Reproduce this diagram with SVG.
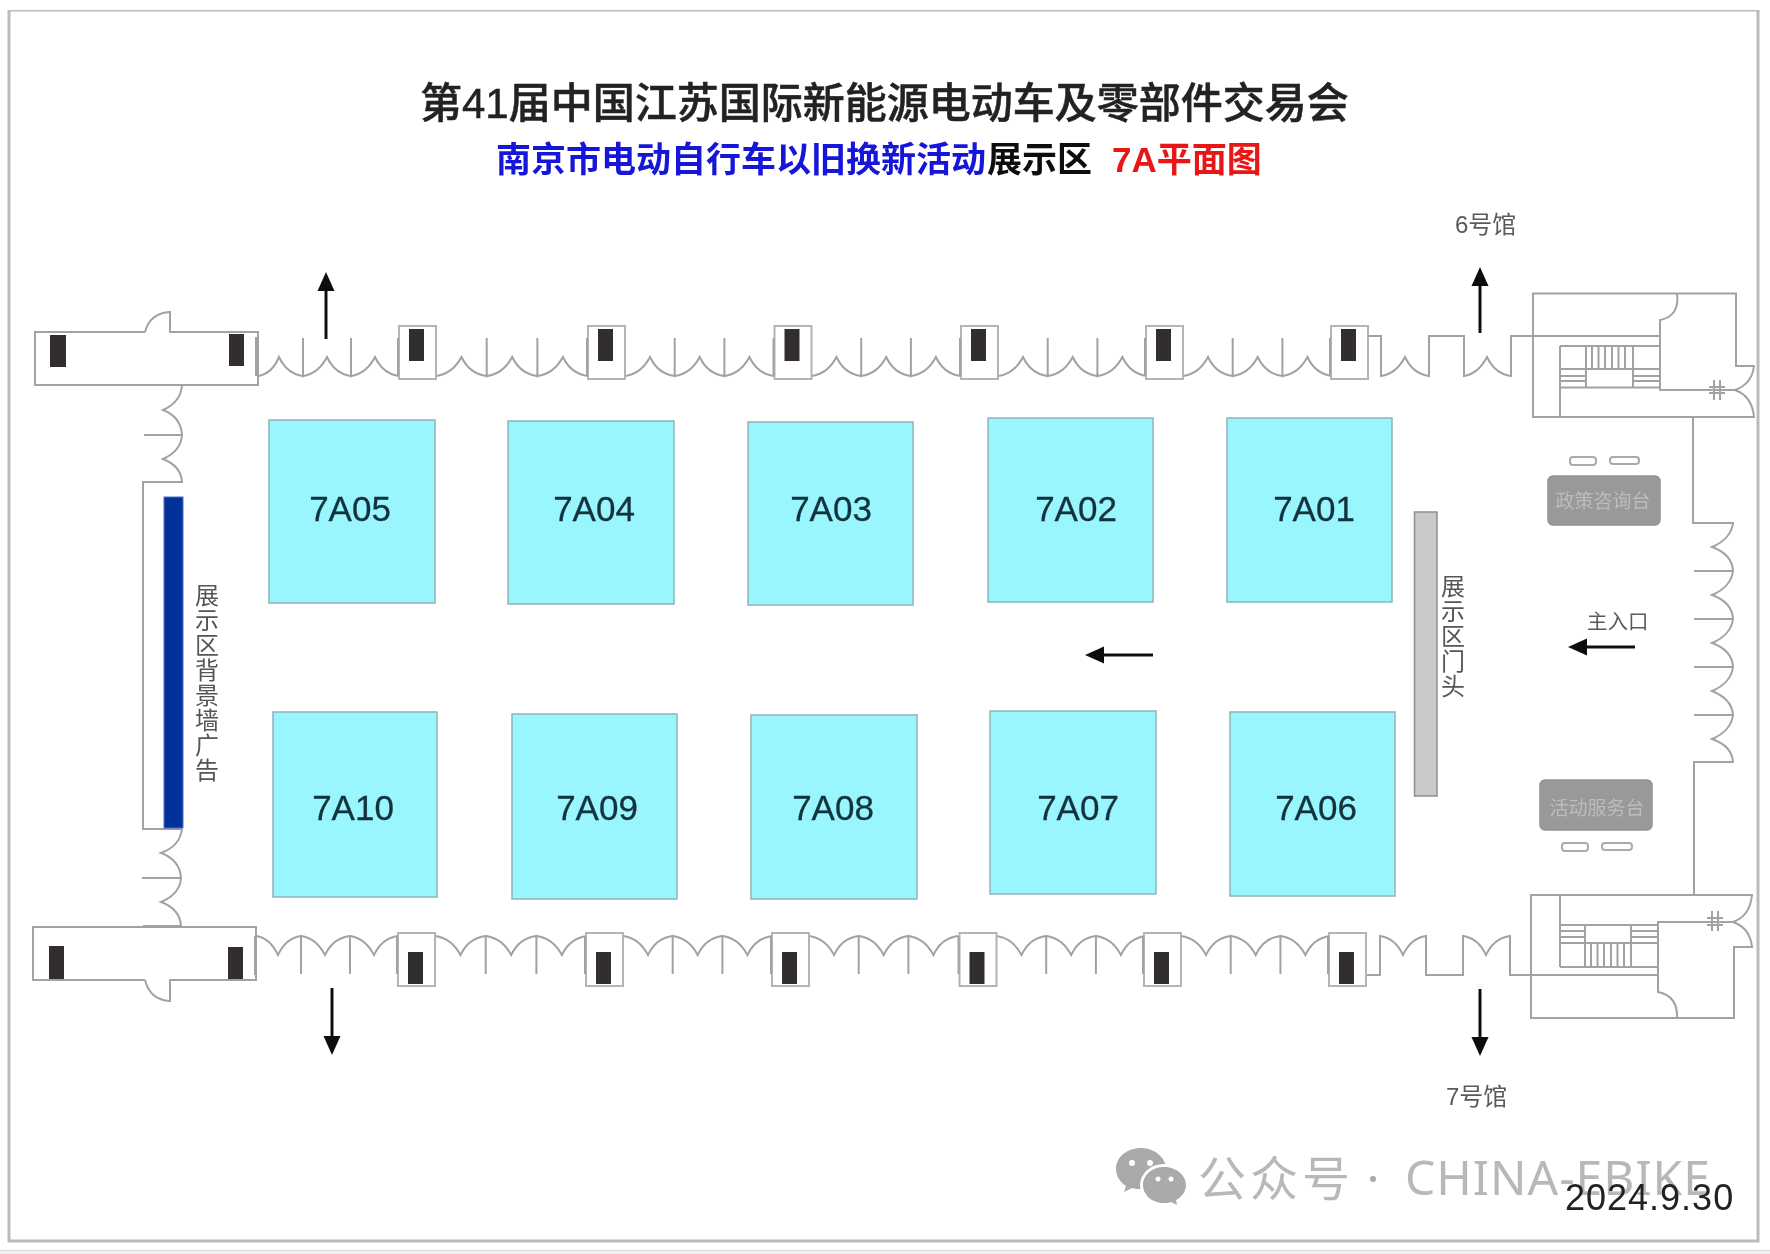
<svg xmlns="http://www.w3.org/2000/svg" width="1770" height="1254" viewBox="0 0 1770 1254">
<style>
.w{fill:none;stroke:#a2a2a2;stroke-width:2}
.dk{fill:#332f2e}
.pil{fill:#fff;stroke:#b4b4b4;stroke-width:2}
.stand{fill:#99f6ff;stroke:#8fb4b8;stroke-width:1.5}
.num{font-family:"Liberation Sans",Arial,sans-serif;font-size:35px;fill:#12333c;text-anchor:middle;stroke:#12333c;stroke-width:.3}
.lab{font-family:"Liberation Sans","Noto Sans CJK SC",sans-serif;fill:#5a5a5a;font-size:24px}
.vt{font-family:"Noto Sans CJK SC",sans-serif;fill:#555;font-size:24px;writing-mode:vertical-rl;letter-spacing:1px}
.desk{fill:#999;stroke:#929292;stroke-width:1.5}
.desktxt{font-family:"Noto Sans CJK SC",sans-serif;fill:#bcbcbc;font-size:19px;text-anchor:middle}
.seat{fill:#fff;stroke:#aaa;stroke-width:2}
.arrow{stroke:#111;stroke-width:3;fill:none;marker-end:url(#ah)}
.t2{font-family:"Liberation Sans","Noto Sans CJK SC",sans-serif;font-size:35px;font-weight:700}
</style>
<defs>
<filter id="soft" x="0" y="0" width="100%" height="100%"><feGaussianBlur stdDeviation="0.6"/></filter>
<marker id="ah" markerUnits="userSpaceOnUse" markerWidth="20" markerHeight="18" refX="1" refY="9" orient="auto"><path d="M0 0.5L19 9L0 17.5Z" fill="#111"/></marker>
<path id="spanT" class="w" d="M0 0q16-2 25-19q8 17 24.700 19v-38v38q16-2 25-19q8 17 24.700 19v-38v38q16-2 25-19q8 17 24.700 19"/>
<path id="spanB" class="w" d="M0 0q16 2 25 19q8-17 24.700-19v38v-38q16 2 25 19q8-17 24.700-19v38v-38q16 2 25 19q8-17 24.700-19"/>
<g id="pilT"><rect class="pil" x="0" y="326" width="37" height="53"/><path class="w" d="M-1 338V376"/><rect class="dk" x="10" y="329" width="15" height="32"/></g>
<g id="pilB"><rect class="pil" x="0" y="933" width="37" height="53"/><path class="w" d="M-1 936V974"/><rect class="dk" x="10" y="952" width="15" height="32"/></g>
</defs>
<rect width="1770" height="1254" fill="#fff"/>
<g filter="url(#soft)">
<rect x="0" y="1251" width="1770" height="3" fill="#f4f4f4"/>
<path d="M0 1250.500H1770" stroke="#ddd" stroke-width="1.500"/>
<rect id="frame" x="9" y="10" width="1749" height="1231" fill="none" stroke="#bbb" stroke-width="3"/>

<g id="title">
<text x="420" y="118" font-family="'Liberation Sans','Noto Sans CJK SC',sans-serif" font-size="42" font-weight="500" fill="#222" stroke="#222" stroke-width=".5">第41届中国江苏国际新能源电动车及零部件交易会</text>
<text class="t2" x="496" y="172" fill="#1212d8">南京市电动自行车以旧换新活动</text>
<text class="t2" x="987" y="172" fill="#111">展示区</text>
<text class="t2" x="1112" y="172" fill="#e81414">7A平面图</text>
</g>

<g id="walls">
<path id="block-top-left" class="w" d="M145 332H35V385H258V332H170V312Q150 313 145 332"/>
<rect class="dk" x="50" y="335" width="16" height="32"/>
<rect class="dk" x="229" y="334" width="15" height="32"/>
<path class="w" d="M256 337V376"/>
<path id="block-bottom-left" class="w" d="M145 980H33V927H256V980H170V1001Q150 1000 145 980"/>
<rect class="dk" x="49" y="946" width="15" height="33"/>
<rect class="dk" x="228" y="947" width="15" height="32"/>
<path class="w" d="M255 936V975"/>

<path id="left-doors-top" class="w" d="M143 385H182q-1 17-19 25q18 7 19 25H144H182q-1 16-19 24q18 7 19 23H143V829H182"/>
<path id="left-doors-bottom" class="w" d="M182 829q-2 17-21 24q19 7 20 25H142H181q-1 16-20 24q19 7 20 24H143"/>
<rect id="blue-wall" x="164" y="497" width="19" height="331" fill="#003399" stroke="#4a6fc4" stroke-width="1"/>

<path class="w" d="M258 376q14-2 21-19q8 17 24 19v-38v38q15-2 24-19q8 17 24 19v-38v38q15-2 24-19q8 17 24 19"/>
<use href="#spanT" transform="translate(436 376) scale(1.020 1)"/>
<use href="#spanT" x="625" y="376"/>
<use href="#spanT" x="811.500" y="376"/>
<use href="#spanT" x="998" y="376"/>
<use href="#spanT" x="1183" y="376"/>
<use href="#pilT" x="399"/>
<use href="#pilT" x="588"/>
<use href="#pilT" x="774.500"/>
<use href="#pilT" x="961"/>
<use href="#pilT" x="1146"/>
<use href="#pilT" x="1331"/>
<path class="w" d="M1368 336H1381V376q15-2 24-19q8 17 24 19V336H1464V376q14-2 23-19q8 17 24 19V336H1660"/>

<path class="w" d="M256 936q14 2 22 19q8-17 23-19v38v-38q15 2 24 19q8-17 25-19v38v-38q15 2 24 19q8-17 24-19"/>
<use href="#spanB" transform="translate(435 936) scale(1.020 1)"/>
<use href="#spanB" x="623" y="936"/>
<use href="#spanB" x="809" y="936"/>
<use href="#spanB" x="996.500" y="936"/>
<use href="#spanB" x="1181" y="936"/>
<use href="#pilB" x="398"/>
<use href="#pilB" x="586"/>
<use href="#pilB" x="772"/>
<use href="#pilB" x="959.500"/>
<use href="#pilB" x="1144"/>
<use href="#pilB" x="1329"/>
<path class="w" d="M1367 975H1380V936q15 2 23 19q8-17 23-19V975H1463V936q15 2 23 19q8-17 24-19V975H1658"/>

<g id="stair-top">
<path class="w" d="M1677 293.500H1533V417H1754Q1752 396 1735 390Q1752 384 1754 366H1736V293.500H1677Q1680 316 1660 320V390H1735M1560 346H1660M1560 346V417M1560 369H1660M1560 387.500H1660M1586 346V387.500M1633 346V387.500M1660 336H1533"/>
<path class="w" stroke-width="1.500" d="M1592 346V369M1598.500 346V369M1605 346V369M1612 346V369M1618.500 346V369M1625 346V369M1560 376H1586M1560 381H1586M1633 376H1660M1633 381H1660M1714 380V400M1720 380V400M1709 387H1725M1709 393H1725"/>
</g>
<g id="stair-bottom">
<path class="w" d="M1677 1018H1531V895H1752Q1750 916 1733 922Q1750 928 1752 947H1734V1018H1677Q1678 996 1658 992V922H1733M1560 925H1658M1560 895V967M1560 943H1658M1560 967H1658M1585 925V967M1631 925V967M1658 975H1531"/>
<path class="w" stroke-width="1.500" d="M1591 943V967M1597.500 943V967M1604 943V967M1611 943V967M1617.500 943V967M1624 943V967M1560 931H1585M1560 937H1585M1631 931H1658M1631 937H1658M1712 911V931M1718 911V931M1707 918H1723M1707 925H1723"/>
</g>
<path id="right-wall" class="w" d="M1693 418V523H1733q-2 16-21 24q20 7 21 24H1694H1733q-2 16-21 24q20 7 21 24H1694H1733q-2 16-21 24q20 7 21 24H1694H1733q-2 16-21 24q20 8 21 24H1694H1733q-2 16-21 24q20 7 21 23H1694V895"/>
</g>

<g id="stands">
<g id="7A05"><rect class="stand" x="269" y="420" width="166" height="183"/><text class="num" x="350" y="521">7A05</text></g>
<g id="7A04"><rect class="stand" x="508" y="421" width="166" height="183"/><text class="num" x="594" y="521">7A04</text></g>
<g id="7A03"><rect class="stand" x="748" y="422" width="165" height="183"/><text class="num" x="831" y="521">7A03</text></g>
<g id="7A02"><rect class="stand" x="988" y="418" width="165" height="184"/><text class="num" x="1076" y="521">7A02</text></g>
<g id="7A01"><rect class="stand" x="1227" y="418" width="165" height="184"/><text class="num" x="1314" y="521">7A01</text></g>
<g id="7A10"><rect class="stand" x="273" y="712" width="164" height="185"/><text class="num" x="353" y="820">7A10</text></g>
<g id="7A09"><rect class="stand" x="512" y="714" width="165" height="185"/><text class="num" x="597" y="820">7A09</text></g>
<g id="7A08"><rect class="stand" x="751" y="715" width="166" height="184"/><text class="num" x="833" y="820">7A08</text></g>
<g id="7A07"><rect class="stand" x="990" y="711" width="166" height="183"/><text class="num" x="1078" y="820">7A07</text></g>
<g id="7A06"><rect class="stand" x="1230" y="712" width="165" height="184"/><text class="num" x="1316" y="820">7A06</text></g>
</g>

<g id="gate">
<rect x="1414.500" y="512" width="22.500" height="284" fill="#c9c9c9" stroke="#8e8e8e" stroke-width="1.500"/>
<text class="vt" x="1453" y="574">展示区门头</text>
</g>
<text id="backwall-label" class="vt" x="207" y="583">展示区背景墙广告</text>

<g id="desk-policy">
<rect class="seat" x="1570" y="457" width="26" height="8" rx="3"/>
<rect class="seat" x="1610" y="457" width="29" height="7" rx="3"/>
<rect class="desk" x="1548" y="476" width="112" height="49" rx="5"/>
<text class="desktxt" x="1603" y="508">政策咨询台</text>
</g>
<g id="desk-service">
<rect class="desk" x="1540" y="780" width="112" height="50" rx="5"/>
<text class="desktxt" x="1597" y="815">活动服务台</text>
<rect class="seat" x="1562" y="843" width="26" height="8" rx="3"/>
<rect class="seat" x="1602" y="843" width="30" height="7" rx="3"/>
</g>

<g id="connectors">
<path class="arrow" d="M326 339V290"/>
<path class="arrow" d="M1480 333V285"/>
<path class="arrow" d="M332 988V1037"/>
<path class="arrow" d="M1480 989V1038"/>
<path class="arrow" d="M1153 655H1103"/>
<path class="arrow" d="M1635 647H1586"/>
</g>

<text class="lab" x="1455" y="233">6号馆</text>
<text class="lab" x="1446" y="1105">7号馆</text>
<text class="lab" x="1587" y="629" style="font-size:20.500px">主入口</text>

<g id="watermark">
<path d="M1141 1148c-14 0-25 9-25 21c0 7 4 13 10 17l-2 6l8-4c3 1 6 1 9 1c13 0 25-9 25-20s-11-21-25-21z" fill="#aaa"/>
<ellipse cx="1164" cy="1185" rx="24" ry="21" fill="#fff"/>
<path d="M1164 1167c-12 0-21 8-21 18s9 18 21 18c3 0 5 0 7-1l6 3l-1-5c6-3 10-9 10-15c0-10-10-18-22-18z" fill="#aaa"/>
<circle cx="1132" cy="1163" r="3" fill="#fff"/><circle cx="1150" cy="1163" r="3" fill="#fff"/>
<circle cx="1158" cy="1179" r="2.500" fill="#fff"/><circle cx="1171" cy="1179" r="2.500" fill="#fff"/>
<text x="1198" y="1196" font-family="'Noto Sans CJK SC',sans-serif" font-size="48" letter-spacing="4" fill="#b8b8b8">公众号</text>
<circle cx="1373" cy="1179" r="3" fill="#aaa"/>
<text x="1405" y="1195" font-family="'Noto Sans','Liberation Sans',sans-serif" font-size="48" textLength="305" lengthAdjust="spacing" fill="#b8b8b8">CHINA-EBIKE</text>
</g>
<text id="date" x="1565" y="1210" font-family="'Liberation Sans',Arial,sans-serif" font-size="36" letter-spacing="1" fill="#222">2024.9.30</text>
</g>
</svg>
